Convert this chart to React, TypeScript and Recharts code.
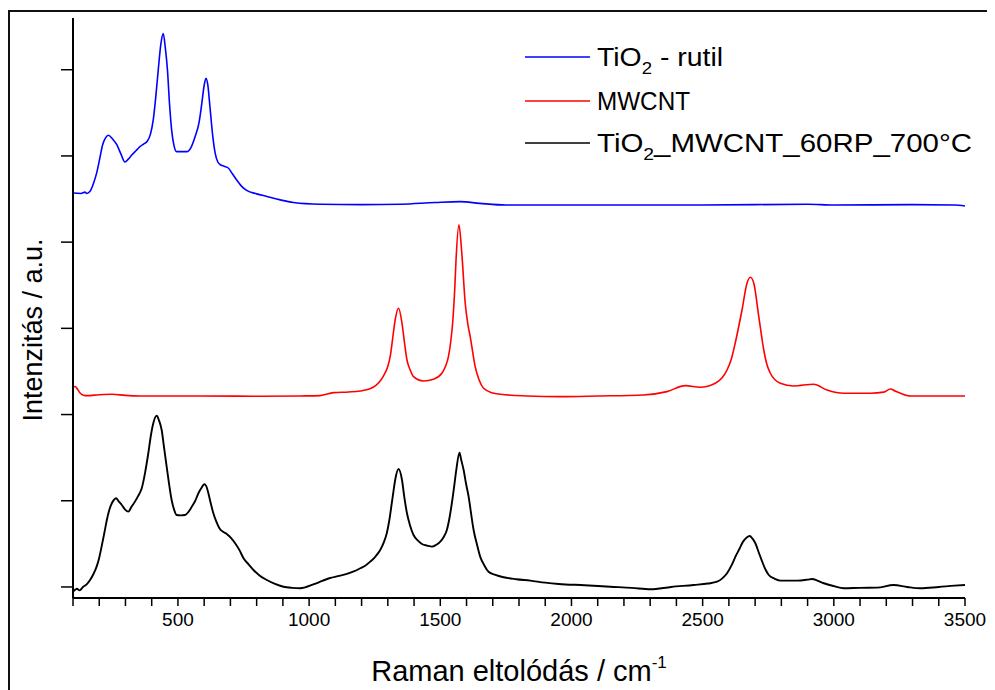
import { LineChart, Line, XAxis, YAxis, Label } from 'recharts'

// Raman spectra, stacked with a vertical offset (shift in cm-1, intensity in a.u.)
const rutil: [number, number][] = [
  [100, 4.57], [130, 4.565], [146, 4.58], [152, 4.565], [165, 4.59], [178, 4.68], [190, 4.8],
  [202, 4.97], [213, 5.13], [224, 5.21], [235, 5.24], [250, 5.2], [267, 5.13], [283, 5.02],
  [298, 4.93], [310, 4.96], [324, 5.01], [340, 5.06], [356, 5.11], [370, 5.14], [383, 5.17],
  [395, 5.25], [406, 5.42], [416, 5.7], [425, 6.0], [435, 6.3], [444, 6.42], [452, 6.25],
  [460, 6.0], [468, 5.6], [476, 5.3], [485, 5.12], [495, 5.05], [515, 5.05], [534, 5.05],
  [550, 5.1], [565, 5.22], [580, 5.38], [591, 5.61], [600, 5.82], [607, 5.9], [614, 5.82],
  [622, 5.57], [632, 5.25], [642, 5.03], [652, 4.93], [661, 4.9], [676, 4.88], [692, 4.86],
  [708, 4.79], [724, 4.72], [742, 4.65], [762, 4.6], [800, 4.56], [839, 4.53], [890, 4.49],
  [940, 4.46], [1042, 4.44], [1200, 4.435], [1350, 4.44], [1480, 4.46], [1576, 4.47],
  [1650, 4.45], [1750, 4.43], [2000, 4.43], [2500, 4.43], [2900, 4.44], [3000, 4.43],
  [3300, 4.435], [3460, 4.43], [3500, 4.42],
]

const mwcnt: [number, number][] = [
  [100, 2.32], [108, 2.325], [118, 2.29], [127, 2.25], [140, 2.225], [153, 2.219], [200, 2.23],
  [249, 2.236], [300, 2.222], [356, 2.216], [584, 2.216], [813, 2.212], [966, 2.216],
  [1042, 2.22], [1093, 2.254], [1150, 2.262], [1195, 2.274], [1244, 2.317], [1282, 2.44],
  [1300, 2.56], [1309, 2.672], [1320, 2.92], [1328, 3.097], [1341, 3.233], [1354, 3.059],
  [1365, 2.8], [1373, 2.633], [1385, 2.52], [1398, 2.44], [1436, 2.39], [1474, 2.41],
  [1506, 2.479], [1520, 2.56], [1531, 2.672], [1540, 2.85], [1548, 3.097], [1555, 3.45],
  [1560, 3.794], [1571, 4.2], [1582, 3.871], [1595, 3.291], [1605, 3.05], [1614, 2.904],
  [1633, 2.556], [1648, 2.4], [1665, 2.305], [1700, 2.25], [1729, 2.236], [1830, 2.216],
  [1957, 2.208], [2100, 2.215], [2274, 2.227], [2364, 2.266], [2434, 2.335], [2491, 2.317],
  [2548, 2.363], [2575, 2.43], [2593, 2.517], [2610, 2.65], [2624, 2.827], [2650, 3.213],
  [2669, 3.523], [2682, 3.593], [2695, 3.523], [2714, 3.136], [2733, 2.749], [2745, 2.58],
  [2758, 2.479], [2796, 2.363], [2847, 2.332], [2923, 2.352], [2974, 2.285], [3038, 2.247],
  [3140, 2.247], [3190, 2.26], [3216, 2.297], [3235, 2.27], [3254, 2.247], [3292, 2.216],
  [3500, 2.216],
]

const composite: [number, number][] = [
  [100, -0.055], [115, -0.02], [125, -0.04], [139, 0.003], [152, 0.03], [165, 0.081],
  [178, 0.15], [190, 0.236], [200, 0.34], [209, 0.468], [219, 0.62], [229, 0.777], [238, 0.89],
  [248, 0.971], [256, 1.01], [264, 1.029], [275, 0.99], [286, 0.951], [298, 0.9], [311, 0.874],
  [323, 0.93], [336, 0.99], [349, 1.06], [362, 1.145], [375, 1.33], [387, 1.551], [397, 1.76],
  [406, 1.899], [419, 1.987], [428, 1.93], [438, 1.821], [447, 1.62], [457, 1.396], [466, 1.2],
  [476, 1.009], [485, 0.9], [495, 0.835], [510, 0.83], [527, 0.835], [540, 0.87], [553, 0.932],
  [566, 1.0], [578, 1.087], [590, 1.15], [600, 1.191], [608, 1.17], [616, 1.087], [625, 0.97],
  [635, 0.855], [646, 0.76], [658, 0.681], [672, 0.64], [686, 0.615], [702, 0.57], [718, 0.507],
  [734, 0.43], [750, 0.333], [770, 0.26], [788, 0.197], [812, 0.13], [839, 0.081], [870, 0.035],
  [902, 0.003], [935, -0.01], [966, -0.015], [1016, 0.03], [1050, 0.07], [1080, 0.104],
  [1110, 0.125], [1144, 0.151], [1170, 0.18], [1195, 0.217], [1215, 0.25], [1233, 0.294],
  [1252, 0.35], [1271, 0.429], [1285, 0.52], [1296, 0.623], [1306, 0.78], [1315, 0.971],
  [1322, 1.12], [1328, 1.241], [1341, 1.369], [1354, 1.241], [1363, 1.04], [1373, 0.855],
  [1385, 0.71], [1398, 0.603], [1414, 0.54], [1430, 0.499], [1450, 0.48], [1468, 0.468],
  [1485, 0.49], [1500, 0.526], [1513, 0.58], [1525, 0.661], [1535, 0.8], [1544, 0.971],
  [1553, 1.17], [1561, 1.357], [1573, 1.558], [1580, 1.47], [1589, 1.357], [1598, 1.2],
  [1608, 1.048], [1617, 0.86], [1627, 0.661], [1640, 0.49], [1652, 0.352], [1668, 0.25],
  [1684, 0.177], [1710, 0.14], [1741, 0.113], [1790, 0.09], [1843, 0.073], [1900, 0.05],
  [1951, 0.035], [2050, 0.02], [2148, 0.003], [2230, -0.01], [2301, -0.027], [2380, 0.0],
  [2466, 0.023], [2520, 0.04], [2555, 0.061], [2575, 0.1], [2593, 0.159], [2610, 0.25],
  [2625, 0.352], [2640, 0.44], [2654, 0.526], [2668, 0.575], [2679, 0.592], [2690, 0.56],
  [2701, 0.507], [2714, 0.4], [2727, 0.294], [2740, 0.2], [2752, 0.139], [2775, 0.095],
  [2796, 0.073], [2860, 0.073], [2900, 0.085], [2917, 0.093], [2940, 0.07], [2962, 0.043],
  [3000, 0.01], [3038, -0.015], [3100, -0.01], [3165, -0.008], [3228, 0.023], [3280, 0.0],
  [3330, -0.015], [3400, 0.0], [3460, 0.015], [3500, 0.023],
]

const xTicks = [
  100, 200, 300, 400, 500, 600, 700, 800, 900, 1000, 1100, 1200, 1300, 1400, 1500, 1600, 1700,
  1800, 1900, 2000, 2100, 2200, 2300, 2400, 2500, 2600, 2700, 2800, 2900, 3000, 3100, 3200,
  3300, 3400, 3500,
]
const xLabels = [500, 1000, 1500, 2000, 2500, 3000, 3500]
const yTicks = [0, 1, 2, 3, 4, 5, 6]

const FONT = '"Liberation Sans", Arial, sans-serif'

const series = [
  { name: 'rutil', color: '#0000ff', width: 1.6, points: rutil },
  { name: 'mwcnt', color: '#ff0000', width: 1.6, points: mwcnt },
  { name: 'composite', color: '#000000', width: 1.9, points: composite },
]

const toRows = (pts: [number, number][]) => pts.map(([x, y]) => ({ x, y }))

function XTitle(props: any) {
  const { viewBox } = props
  const cx = viewBox.x + viewBox.width / 2
  return (
    <text x={cx} y={673} textAnchor="middle" fontSize={29} fontFamily={FONT} fill="#000">
      Raman eltolódás / cm<tspan fontSize={17} dy={-13}>-1</tspan>
    </text>
  )
}

function YTitle() {
  return (
    <text
      x={0}
      y={0}
      transform="translate(34 322) rotate(-90)"
      textAnchor="middle"
      fontSize={27}
      fontFamily={FONT}
      fill="#000"
    >
      Intenzitás / a.u.
    </text>
  )
}

function LegendBox() {
  const rows = [
    { color: '#0000ff', y: 49, len: 126, label: <>TiO<tspan fontSize={17} dy={8}>2</tspan><tspan dy={-8}> - rutil</tspan></> },
    { color: '#ff0000', y: 93, len: 93, label: <>MWCNT</> },
    { color: '#000000', y: 135, len: 375, label: <>TiO<tspan fontSize={17} dy={8}>2</tspan><tspan dy={-8}>_MWCNT_60RP_700°C</tspan></> },
  ]
  return (
    <svg width={500} height={170} style={{ position: 'absolute', left: 500, top: 0 }}>
      {rows.map((r, i) => (
        <g key={i}>
          <line x1={17} x2={82} y1={r.y} y2={r.y} stroke={r.color} strokeWidth={1.5} />
          <text
            x={89}
            y={r.y + 9}
            fontSize={26}
            fontFamily={FONT}
            fill="#000"
            textLength={r.len}
            lengthAdjust="spacingAndGlyphs"
          >
            {r.label}
          </text>
        </g>
      ))}
    </svg>
  )
}

export default function App() {
  return (
    <div style={{ position: 'relative', width: 987, height: 682, overflow: 'hidden', background: '#fff' }}>
      <div
        style={{
          position: 'absolute', left: 0, top: 2, width: 983, height: 800,
          border: '2px solid #111', boxSizing: 'border-box',
        }}
      />
      <LineChart
        width={987}
        height={682}
        margin={{ top: 10, right: 30, left: 5, bottom: 0 }}
        style={{ position: 'absolute', left: 0, top: 0 }}
      >
        <XAxis
          dataKey="x"
          type="number"
          domain={[100, 3500]}
          ticks={xTicks}
          interval={0}
          allowDataOverflow
          height={92}
          tickSize={8}
          tickMargin={7}
          tickFormatter={v => (xLabels.includes(v) ? String(v) : '')}
          tick={{ fill: '#000', fontSize: 19, fontFamily: FONT }}
          axisLine={{ stroke: '#000', strokeWidth: 2 }}
          tickLine={{ stroke: '#000', strokeWidth: 1.5 }}
        >
          <Label content={XTitle} />
        </XAxis>
        <YAxis
          type="number"
          domain={[-0.128, 6.6]}
          ticks={yTicks}
          interval={0}
          allowDataOverflow
          width={60}
          tickSize={12}
          tickFormatter={() => ''}
          axisLine={{ stroke: '#000', strokeWidth: 2 }}
          tickLine={{ stroke: '#000', strokeWidth: 1.5 }}
        >
          <Label content={YTitle} />
        </YAxis>
        {series.map(s => (
          <Line
            key={s.name}
            data={toRows(s.points)}
            dataKey="y"
            type="monotone"
            stroke={s.color}
            strokeWidth={s.width}
            dot={false}
            activeDot={false}
            isAnimationActive={false}
          />
        ))}
      </LineChart>
      <LegendBox />
    </div>
  )
}
